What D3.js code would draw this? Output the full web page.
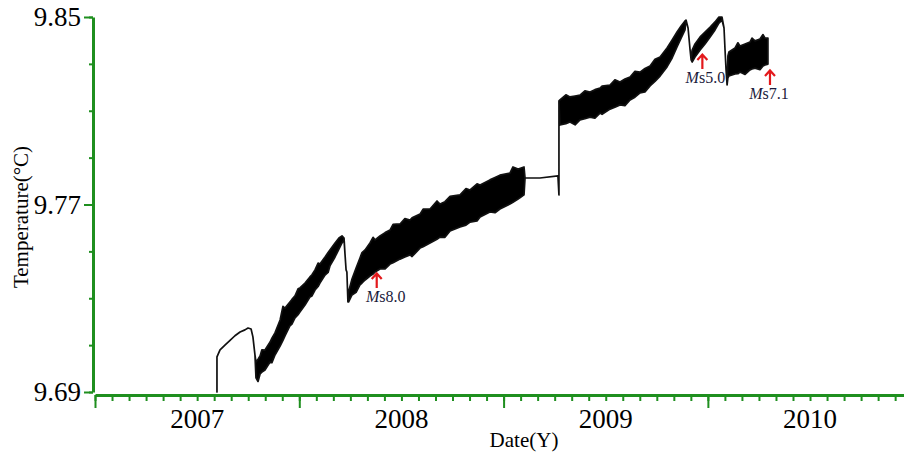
<!DOCTYPE html>
<html>
<head>
<meta charset="utf-8">
<script src="https://cdn.jsdelivr.net/npm/d3@7"></script>
<style>
  html, body { margin: 0; padding: 0; background: #fff; }
  svg { display: block; }
  text { font-family: "Liberation Serif", "Times New Roman", serif; }
</style>
</head>
<body>
<svg id="chart" width="904" height="452"></svg>
<script>
// Axis ticks and labels
const yearTicks = [2007, 2008, 2009, 2010];
const yearLabels = ["2007", "2008", "2009", "2010"];
const tempTicks = [9.69, 9.77, 9.85];
const tempLabels = ["9.69", "9.77", "9.85"];

// Borehole temperature record: [decimal year, low, high] (°C).
// Where low == high the record is a single trace; elsewhere it is the
// envelope of the tidal/noise oscillation.
const record = [
  [2007.597, 9.6900, 9.6900], [2007.597, 9.7050, 9.7050], [2007.612, 9.7080, 9.7080],
  [2007.636, 9.7100, 9.7100], [2007.661, 9.7120, 9.7120], [2007.685, 9.7140, 9.7140],
  [2007.710, 9.7156, 9.7156], [2007.734, 9.7165, 9.7165], [2007.749, 9.7173, 9.7173],
  [2007.764, 9.7169, 9.7169], [2007.773, 9.7135, 9.7135], [2007.783, 9.7058, 9.7058],
  [2007.788, 9.6960, 9.7028], [2007.798, 9.6945, 9.7040], [2007.808, 9.6977, 9.7054],
  [2007.817, 9.6985, 9.7080], [2007.832, 9.6994, 9.7079],
  [2007.857, 9.7028, 9.7113], [2007.866, 9.7025, 9.7130], [2007.881, 9.7058, 9.7152],
  [2007.906, 9.7096, 9.7207], [2007.920, 9.7120, 9.7265],
  [2007.930, 9.7139, 9.7258], [2007.954, 9.7182, 9.7284], [2007.964, 9.7190, 9.7295],
  [2007.979, 9.7216, 9.7310], [2007.994, 9.7230, 9.7340],
  [2008.003, 9.7241, 9.7344], [2008.028, 9.7271, 9.7365], [2008.052, 9.7305, 9.7391],
  [2008.062, 9.7310, 9.7400],
  [2008.077, 9.7335, 9.7421], [2008.092, 9.7350, 9.7450], [2008.101, 9.7365, 9.7446],
  [2008.126, 9.7399, 9.7476], [2008.141, 9.7410, 9.7495],
  [2008.150, 9.7438, 9.7506], [2008.175, 9.7476, 9.7536], [2008.194, 9.7510, 9.7557],
  [2008.209, 9.7536, 9.7566], [2008.219, 9.7549, 9.7557],
  [2008.224, 9.7485, 9.7485], [2008.229, 9.7421, 9.7421], [2008.233, 9.7412, 9.7412],
  [2008.238, 9.7284, 9.7284],
  [2008.241, 9.7284, 9.7327], [2008.258, 9.7314, 9.7382], [2008.278, 9.7325, 9.7429],
  [2008.297, 9.7357, 9.7472], [2008.307, 9.7365, 9.7495], [2008.322, 9.7378, 9.7506],
  [2008.346, 9.7395, 9.7536], [2008.361, 9.7403, 9.7560],
  [2008.371, 9.7412, 9.7549], [2008.395, 9.7425, 9.7566], [2008.420, 9.7425, 9.7580],
  [2008.444, 9.7446, 9.7591], [2008.459, 9.7452, 9.7615],
  [2008.493, 9.7467, 9.7617], [2008.517, 9.7476, 9.7640], [2008.542, 9.7485, 9.7634],
  [2008.552, 9.7478, 9.7643], [2008.591, 9.7514, 9.7659], [2008.606, 9.7520, 9.7680],
  [2008.640, 9.7536, 9.7681], [2008.674, 9.7552, 9.7715], [2008.689, 9.7561, 9.7702],
  [2008.713, 9.7560, 9.7712], [2008.738, 9.7587, 9.7735],
  [2008.787, 9.7604, 9.7741], [2008.816, 9.7612, 9.7768], [2008.836, 9.7625, 9.7762],
  [2008.870, 9.7630, 9.7788], [2008.885, 9.7647, 9.7783],
  [2008.933, 9.7668, 9.7805], [2008.958, 9.7665, 9.7815], [2008.982, 9.7681, 9.7825],
  [2009.031, 9.7702, 9.7834], [2009.046, 9.7710, 9.7860],
  [2009.071, 9.7723, 9.7851], [2009.100, 9.7741, 9.7860],
  [2009.105, 9.7813, 9.7813], [2009.178, 9.7813, 9.7813], [2009.266, 9.7822, 9.7822],
  [2009.271, 9.7741, 9.7741], [2009.271, 9.8142, 9.8142],
  [2009.276, 9.8039, 9.8146], [2009.305, 9.8045, 9.8168], [2009.325, 9.8052, 9.8159],
  [2009.350, 9.8040, 9.8163], [2009.374, 9.8061, 9.8167], [2009.398, 9.8066, 9.8185],
  [2009.423, 9.8073, 9.8180], [2009.447, 9.8068, 9.8190], [2009.472, 9.8090, 9.8197],
  [2009.482, 9.8085, 9.8205], [2009.521, 9.8107, 9.8210], [2009.545, 9.8115, 9.8232],
  [2009.570, 9.8125, 9.8223], [2009.594, 9.8122, 9.8235],
  [2009.619, 9.8146, 9.8244], [2009.643, 9.8158, 9.8268], [2009.668, 9.8176, 9.8265],
  [2009.692, 9.8180, 9.8280], [2009.717, 9.8206, 9.8291], [2009.741, 9.8225, 9.8320],
  [2009.766, 9.8248, 9.8329], [2009.800, 9.8287, 9.8368],
  [2009.825, 9.8325, 9.8402], [2009.849, 9.8372, 9.8436], [2009.869, 9.8410, 9.8462],
  [2009.888, 9.8445, 9.8483],
  [2009.893, 9.8487, 9.8487], [2009.903, 9.8453, 9.8453], [2009.913, 9.8359, 9.8359],
  [2009.918, 9.8317, 9.8317],
  [2009.923, 9.8308, 9.8359], [2009.937, 9.8329, 9.8385], [2009.962, 9.8359, 9.8415],
  [2009.986, 9.8385, 9.8436], [2010.011, 9.8415, 9.8457], [2010.035, 9.8445, 9.8479],
  [2010.054, 9.8474, 9.8500], [2010.069, 9.8487, 9.8500],
  [2010.079, 9.8453, 9.8453], [2010.084, 9.8359, 9.8359], [2010.089, 9.8274, 9.8274],
  [2010.094, 9.8210, 9.8210],
  [2010.098, 9.8240, 9.8334], [2010.103, 9.8248, 9.8351], [2010.133, 9.8257, 9.8368],
  [2010.147, 9.8258, 9.8390], [2010.157, 9.8265, 9.8376], [2010.182, 9.8255, 9.8385],
  [2010.206, 9.8274, 9.8393], [2010.216, 9.8278, 9.8410], [2010.231, 9.8282, 9.8398],
  [2010.255, 9.8275, 9.8406], [2010.270, 9.8291, 9.8425], [2010.280, 9.8295, 9.8410],
  [2010.294, 9.8299, 9.8410]
];

// Earthquakes marked on the record
const quakeMags = ["s8.0", "s5.0", "s7.1"];
const quakeTimes = [2008.379, 2009.973, 2010.304];
const quakeTemps = [9.7408, 9.8342, 9.8274];

const GREEN = "#1f8f1f";
const svg = d3.select("#chart");

const x = d3.scaleLinear().domain([2007, 2010.96]).range([95, 904]);
const y = d3.scaleLinear().domain([9.69, 9.85]).range([392, 17]);

// ---- Y axis ----
const yMinor = d3.range(0, 9).map(i => +(9.69 + i * 0.02).toFixed(2));
const yG = svg.append("g").attr("transform", "translate(93,0)");
yG.append("g")
  .call(d3.axisLeft(y).tickValues(yMinor).tickSize(4).tickSizeOuter(0).tickFormat(""))
  .call(g => g.select(".domain").remove());
yG.append("g")
  .call(d3.axisLeft(y).tickValues(tempTicks).tickSize(9).tickSizeOuter(0).tickPadding(3)
    .tickFormat((d, i) => tempLabels[i]))
  .call(g => g.select(".domain").attr("stroke-width", 3));
yG.selectAll("line").attr("stroke", GREEN).attr("stroke-width", 2);
yG.selectAll(".domain").attr("stroke", GREEN);
yG.selectAll("text").attr("font-size", 27).attr("fill", "#000")
  .style("font-family", '"Liberation Serif","Times New Roman",serif');

// ---- X axis ----
const xMinor = d3.range(0, 48).map(i => 2007 + i / 12).filter(v => v <= 2010.96);
const xG = svg.append("g").attr("transform", "translate(0,395)");
xG.append("g")
  .call(d3.axisBottom(x).tickValues(xMinor).tickSize(6).tickSizeOuter(0).tickFormat(""))
  .call(g => g.select(".domain").remove());
xG.append("g")
  .call(d3.axisBottom(x).tickValues(yearTicks).tickSize(13).tickSizeOuter(0).tickFormat(""))
  .call(g => g.select(".domain").attr("stroke-width", 3));
xG.selectAll("line").attr("stroke", GREEN).attr("stroke-width", 2);
xG.selectAll(".domain").attr("stroke", GREEN);

// Year labels sit in the middle of each year's span
svg.append("g").selectAll("text")
  .data(yearTicks)
  .join("text")
  .attr("x", d => x(d + 0.5))
  .attr("y", 428)
  .attr("text-anchor", "middle")
  .attr("font-size", 27)
  .text((d, i) => yearLabels[i]);

// ---- Axis titles ----
svg.append("text")
  .attr("transform", "translate(28,217) rotate(-90)")
  .attr("text-anchor", "middle")
  .attr("font-size", 21)
  .text("Temperature(°C)");
svg.append("text")
  .attr("x", 524).attr("y", 447)
  .attr("text-anchor", "middle")
  .attr("font-size", 21)
  .text("Date(Y)");

// ---- Temperature record ----
const band = d3.area()
  .x(d => x(d[0]))
  .y0(d => y(d[1]))
  .y1(d => y(d[2]));
svg.append("path")
  .datum(record)
  .attr("d", band)
  .attr("fill", "#000")
  .attr("stroke", "#111")
  .attr("stroke-width", 1.7)
  .attr("stroke-linejoin", "round");

// ---- Earthquake markers ----
const quakes = quakeTimes.map((t, i) => ({ t, v: quakeTemps[i], mag: quakeMags[i] }));
const labelShift = [9, 3, -1];
const qG = svg.append("g").selectAll("g")
  .data(quakes)
  .join("g")
  .attr("transform", d => `translate(${x(d.t)},${y(d.v)})`);
qG.append("path")
  .attr("d", "M0,1V15M-5,6L0,0.5L5,6")
  .attr("fill", "none")
  .attr("stroke", "#e3191c")
  .attr("stroke-width", 2.2);
const qText = qG.append("text")
  .attr("x", (d, i) => labelShift[i])
  .attr("y", 29)
  .attr("text-anchor", "middle")
  .attr("font-size", 16)
  .attr("fill", "#1b1b3c");
qText.append("tspan").attr("font-style", "italic").text("M");
qText.append("tspan").text(d => d.mag);
</script>
</body>
</html>
